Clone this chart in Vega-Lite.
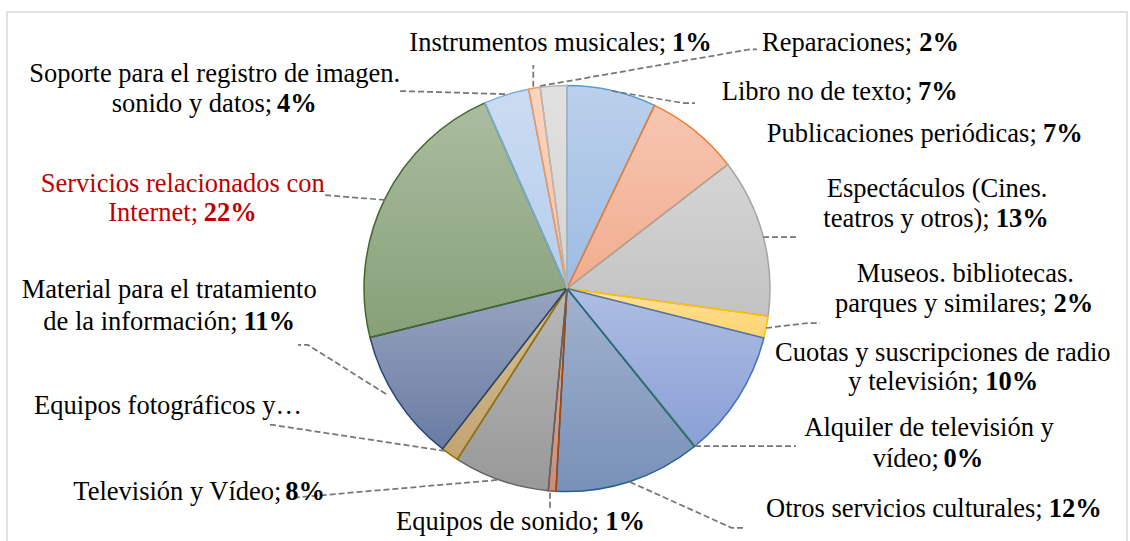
{
  "$schema": "https://vega.github.io/schema/vega-lite/v6.json",
  "width": 1120,
  "height": 531,
  "autosize": {"type": "none"},
  "padding": {"left": 7, "top": 12, "right": 3, "bottom": 0},
  "background": "white",
  "config": {"view": {"stroke": "#d9d9d9", "strokeWidth": 1.5}},
  "datasets": {
    "slices": [
      {"idx": 1, "slice": "Libro no de texto", "value": 7.10},
      {"idx": 2, "slice": "Publicaciones periódicas", "value": 7.44},
      {"idx": 3, "slice": "Espectáculos (Cines. teatros y otros)", "value": 12.63},
      {"idx": 4, "slice": "Museos. bibliotecas. parques y similares", "value": 1.75},
      {"idx": 5, "slice": "Cuotas y suscripciones de radio y televisión", "value": 10.21},
      {"idx": 6, "slice": "Alquiler de televisión y vídeo", "value": 0.07},
      {"idx": 7, "slice": "Otros servicios culturales", "value": 11.67},
      {"idx": 8, "slice": "Equipos de sonido", "value": 0.61},
      {"idx": 9, "slice": "Televisión y Vídeo", "value": 7.61},
      {"idx": 10, "slice": "Equipos fotográficos y…", "value": 1.42},
      {"idx": 11, "slice": "Material para el tratamiento de la información", "value": 10.61},
      {"idx": 12, "slice": "Servicios relacionados con Internet", "value": 22.25},
      {"idx": 13, "slice": "Soporte para el registro de imagen. sonido y datos", "value": 3.61},
      {"idx": 14, "slice": "Instrumentos musicales", "value": 0.92},
      {"idx": 15, "slice": "Reparaciones", "value": 2.11}
    ],
    "plain": [
      {"slice": "Instrumentos musicales", "text": "Instrumentos musicales;", "x": -77.68, "y": 117.0},
      {"slice": "Reparaciones", "text": "Reparaciones;", "x": 96.06, "y": 117.24},
      {"slice": "Libro no de texto", "text": "Libro no de texto;", "x": 76.21, "y": 92.86},
      {"slice": "Publicaciones periódicas", "text": "Publicaciones periódicas;", "x": 98.37, "y": 72.02},
      {"slice": "Espectáculos (Cines. teatros y otros)", "text": "Espectáculos (Cines.", "x": 127.93, "y": 45.1},
      {"slice": "Espectáculos (Cines. teatros y otros)", "text": "teatros y otros);", "x": 126.26, "y": 30.44},
      {"slice": "Museos. bibliotecas. parques y similares", "text": "Museos. bibliotecas.", "x": 142.71, "y": 3.35},
      {"slice": "Museos. bibliotecas. parques y similares", "text": "parques y similares;", "x": 132.02, "y": -11.43},
      {"slice": "Cuotas y suscripciones de radio y televisión", "text": "Cuotas y suscripciones de radio", "x": 102.46, "y": -35.7},
      {"slice": "Cuotas y suscripciones de radio y televisión", "text": "y televisión;", "x": 138.57, "y": -50.0},
      {"slice": "Alquiler de televisión y vídeo", "text": "Alquiler de televisión y", "x": 116.9, "y": -72.6},
      {"slice": "Alquiler de televisión y vídeo", "text": "vídeo;", "x": 150.59, "y": -87.9},
      {"slice": "Otros servicios culturales", "text": "Otros servicios culturales;", "x": 98.03, "y": -112.41},
      {"slice": "Equipos de sonido", "text": "Equipos de sonido;", "x": -84.24, "y": -118.97},
      {"slice": "Soporte para el registro de imagen. sonido y datos", "text": "Soporte para el registro de imagen.", "x": -264.88, "y": 101.87},
      {"slice": "Soporte para el registro de imagen. sonido y datos", "text": "sonido y datos;", "x": -224.29, "y": 87.09},
      {"slice": "Servicios relacionados con Internet", "text": "Servicios relacionados con", "x": -259.26, "y": 47.39},
      {"slice": "Servicios relacionados con Internet", "text": "Internet;", "x": -225.96, "y": 33.4},
      {"slice": "Material para el tratamiento de la información", "text": "Material para el tratamiento", "x": -268.62, "y": -4.83},
      {"slice": "Material para el tratamiento de la información", "text": "de la información;", "x": -257.98, "y": -20.3},
      {"slice": "Equipos fotográficos y…", "text": "Equipos fotográficos y…", "x": -262.5, "y": -61.82},
      {"slice": "Televisión y Vídeo", "text": "Televisión y Vídeo;", "x": -243.2, "y": -104.19}
    ],
    "bold": [
      {"slice": "Instrumentos musicales", "text": "1%", "x": 71.28, "y": 117.0},
      {"slice": "Reparaciones", "text": "2%", "x": 193.1, "y": 117.24},
      {"slice": "Libro no de texto", "text": "7%", "x": 192.46, "y": 92.86},
      {"slice": "Publicaciones periódicas", "text": "7%", "x": 254.04, "y": 72.02},
      {"slice": "Espectáculos (Cines. teatros y otros)", "text": "13%", "x": 237.29, "y": 30.44},
      {"slice": "Museos. bibliotecas. parques y similares", "text": "2%", "x": 259.26, "y": -11.43},
      {"slice": "Cuotas y suscripciones de radio y televisión", "text": "10%", "x": 232.17, "y": -50.0},
      {"slice": "Alquiler de televisión y vídeo", "text": "0%", "x": 205.07, "y": -87.9},
      {"slice": "Otros servicios culturales", "text": "12%", "x": 263.4, "y": -112.41},
      {"slice": "Equipos de sonido", "text": "1%", "x": 38.42, "y": -118.97},
      {"slice": "Soporte para el registro de imagen. sonido y datos", "text": "4%", "x": -123.3, "y": 87.09},
      {"slice": "Servicios relacionados con Internet", "text": "22%", "x": -152.86, "y": 33.4},
      {"slice": "Material para el tratamiento de la información", "text": "11%", "x": -133.99, "y": -20.3},
      {"slice": "Televisión y Vídeo", "text": "8%", "x": -119.21, "y": -104.19}
    ],
    "leaders": [
      {"id": "Reparaciones", "seq": 1, "x": -13.3, "y": 99.75},
      {"id": "Reparaciones", "seq": 2, "x": 90.15, "y": 117.83},
      {"id": "Reparaciones", "seq": 3, "x": 93.6, "y": 117.83},
      {"id": "Instrumentos", "seq": 1, "x": -16.6, "y": 99.41},
      {"id": "Instrumentos", "seq": 2, "x": -16.6, "y": 110.1},
      {"id": "Libro", "seq": 1, "x": 22.17, "y": 97.29},
      {"id": "Libro", "seq": 2, "x": 57.14, "y": 91.38},
      {"id": "Libro", "seq": 3, "x": 63.05, "y": 91.38},
      {"id": "Espectaculos", "seq": 1, "x": 96.55, "y": 25.37},
      {"id": "Espectaculos", "seq": 2, "x": 113.79, "y": 25.37},
      {"id": "Museos", "seq": 1, "x": 98.03, "y": -19.46},
      {"id": "Museos", "seq": 2, "x": 118.72, "y": -17.0},
      {"id": "Museos", "seq": 3, "x": 124.63, "y": -17.0},
      {"id": "Alquiler", "seq": 1, "x": 63.05, "y": -77.59},
      {"id": "Alquiler", "seq": 2, "x": 112.81, "y": -77.59},
      {"id": "Otros", "seq": 1, "x": 31.03, "y": -95.32},
      {"id": "Otros", "seq": 2, "x": 81.28, "y": -117.98},
      {"id": "Otros", "seq": 3, "x": 86.7, "y": -117.98},
      {"id": "Sonido", "seq": 1, "x": -8.37, "y": -100.59},
      {"id": "Sonido", "seq": 2, "x": -8.37, "y": -108.28},
      {"id": "TV", "seq": 1, "x": -34.48, "y": -94.33},
      {"id": "TV", "seq": 2, "x": -136.45, "y": -103.2},
      {"id": "Foto", "seq": 1, "x": -60.1, "y": -80.05},
      {"id": "Foto", "seq": 2, "x": -144.83, "y": -67.24},
      {"id": "Foto", "seq": 3, "x": -147.78, "y": -67.24},
      {"id": "Material", "seq": 1, "x": -89.16, "y": -51.97},
      {"id": "Material", "seq": 2, "x": -127.59, "y": -27.83},
      {"id": "Material", "seq": 3, "x": -132.51, "y": -27.83},
      {"id": "Internet", "seq": 1, "x": -89.66, "y": 43.6},
      {"id": "Internet", "seq": 2, "x": -119.21, "y": 46.06},
      {"id": "Soporte", "seq": 1, "x": -30.54, "y": 95.81},
      {"id": "Soporte", "seq": 2, "x": -83.25, "y": 97.29}
    ]
  },
  "layer": [
    {
      "data": {"name": "slices"},
      "mark": {"type": "arc", "radius": 203, "strokeWidth": 0},
      "encoding": {
        "x": {"datum": 0, "type": "quantitative", "scale": {"domain": [-275.86, 275.86], "nice": false, "zero": false}, "axis": null},
        "y": {"datum": 0, "type": "quantitative", "scale": {"domain": [-125.37, 136.21], "nice": false, "zero": false}, "axis": null},
        "theta": {"field": "value", "type": "quantitative", "stack": true},
        "order": {"field": "idx", "type": "quantitative"},
        "fill": {
          "field": "slice", "type": "nominal", "legend": null,
          "scale": {
            "domain": ["Libro no de texto", "Publicaciones periódicas", "Espectáculos (Cines. teatros y otros)", "Museos. bibliotecas. parques y similares", "Cuotas y suscripciones de radio y televisión", "Alquiler de televisión y vídeo", "Otros servicios culturales", "Equipos de sonido", "Televisión y Vídeo", "Equipos fotográficos y…", "Material para el tratamiento de la información", "Servicios relacionados con Internet", "Soporte para el registro de imagen. sonido y datos", "Instrumentos musicales", "Reparaciones"],
            "range": ["#9dbce3", "#f2ad8f", "#c3c3c3", "#ffd470", "#8aa0d6", "#8cc06a", "#7891b8", "#c98e7b", "#999999", "#c3a46f", "#6a7ca3", "#86a078", "#b5cdec", "#f7c2a5", "#d4d4d4"]
          }
        }
      }
    },
    {
      "data": {"name": "slices"},
      "mark": {
        "type": "arc", "radius": 203, "strokeWidth": 0,
        "fill": {"gradient": "linear", "x1": 0, "y1": 0, "x2": 0, "y2": 1, "stops": [{"offset": 0, "color": "rgba(255,255,255,0.3)"}, {"offset": 1, "color": "rgba(255,255,255,0)"}]}
      },
      "encoding": {
        "x": {"datum": 0, "type": "quantitative", "scale": {"domain": [-275.86, 275.86], "nice": false, "zero": false}, "axis": null},
        "y": {"datum": 0, "type": "quantitative", "scale": {"domain": [-125.37, 136.21], "nice": false, "zero": false}, "axis": null},
        "theta": {"field": "value", "type": "quantitative", "stack": true},
        "order": {"field": "idx", "type": "quantitative"}
      }
    },
    {
      "data": {"name": "slices"},
      "mark": {"type": "arc", "radius": 203, "strokeWidth": 1.5, "fillOpacity": 0},
      "encoding": {
        "x": {"datum": 0, "type": "quantitative", "scale": {"domain": [-275.86, 275.86], "nice": false, "zero": false}, "axis": null},
        "y": {"datum": 0, "type": "quantitative", "scale": {"domain": [-125.37, 136.21], "nice": false, "zero": false}, "axis": null},
        "theta": {"field": "value", "type": "quantitative", "stack": true},
        "order": {"field": "idx", "type": "quantitative"},
        "stroke": {
          "field": "slice", "type": "nominal", "legend": null,
          "scale": {
            "domain": ["Libro no de texto", "Publicaciones periódicas", "Espectáculos (Cines. teatros y otros)", "Museos. bibliotecas. parques y similares", "Cuotas y suscripciones de radio y televisión", "Alquiler de televisión y vídeo", "Otros servicios culturales", "Equipos de sonido", "Televisión y Vídeo", "Equipos fotográficos y…", "Material para el tratamiento de la información", "Servicios relacionados con Internet", "Soporte para el registro de imagen. sonido y datos", "Instrumentos musicales", "Reparaciones"],
            "range": ["#5b9bd5", "#ed7d31", "#a5a5a5", "#ffc000", "#4472c4", "#70ad47", "#255e91", "#9e480e", "#636363", "#997300", "#264478", "#43682b", "#7cafdd", "#f1975a", "#b7b7b7"]
          }
        }
      }
    },
    {
      "data": {"name": "leaders"},
      "mark": {"type": "line", "stroke": "#767676", "strokeWidth": 1.75, "strokeDash": [6, 3]},
      "encoding": {
        "x": {"field": "x", "type": "quantitative", "scale": {"domain": [-275.86, 275.86], "nice": false, "zero": false}, "axis": null},
        "y": {"field": "y", "type": "quantitative", "scale": {"domain": [-125.37, 136.21], "nice": false, "zero": false}, "axis": null},
        "detail": {"field": "id", "type": "nominal"},
        "order": {"field": "seq", "type": "quantitative"}
      }
    },
    {
      "data": {"name": "plain"},
      "mark": {"type": "text", "align": "left", "baseline": "alphabetic", "font": "Liberation Serif", "fontSize": 26.5},
      "encoding": {
        "x": {"field": "x", "type": "quantitative", "scale": {"domain": [-275.86, 275.86], "nice": false, "zero": false}, "axis": null},
        "y": {"field": "y", "type": "quantitative", "scale": {"domain": [-125.37, 136.21], "nice": false, "zero": false}, "axis": null},
        "text": {"field": "text", "type": "nominal"},
        "color": {"condition": {"test": "datum.slice === 'Servicios relacionados con Internet'", "value": "#c00000"}, "value": "#000000"}
      }
    },
    {
      "data": {"name": "bold"},
      "mark": {"type": "text", "align": "right", "baseline": "alphabetic", "font": "Liberation Serif", "fontSize": 26.5, "fontWeight": "bold"},
      "encoding": {
        "x": {"field": "x", "type": "quantitative", "scale": {"domain": [-275.86, 275.86], "nice": false, "zero": false}, "axis": null},
        "y": {"field": "y", "type": "quantitative", "scale": {"domain": [-125.37, 136.21], "nice": false, "zero": false}, "axis": null},
        "text": {"field": "text", "type": "nominal"},
        "color": {"condition": {"test": "datum.slice === 'Servicios relacionados con Internet'", "value": "#c00000"}, "value": "#000000"}
      }
    }
  ]
}
